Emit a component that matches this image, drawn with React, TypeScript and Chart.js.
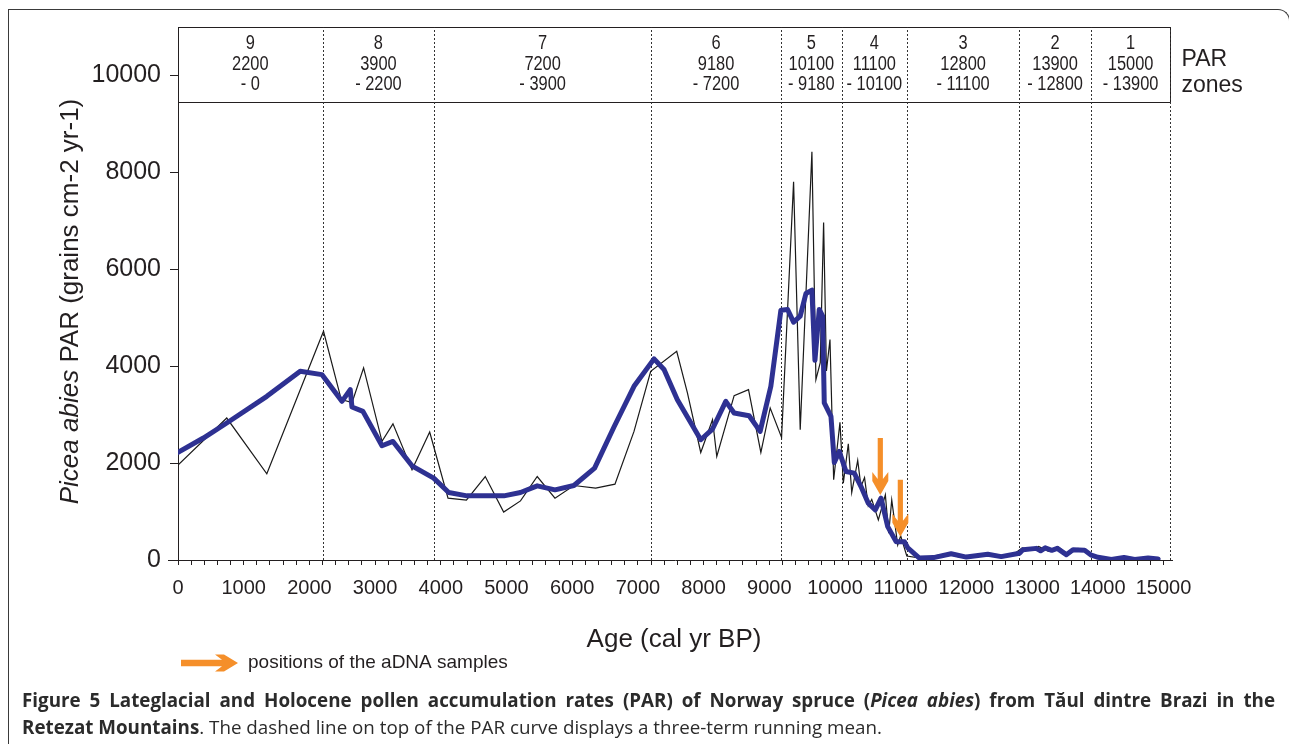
import React, { useEffect, useRef } from "react";
import { Chart, registerables } from "chart.js";

Chart.register(...registerables);

// ---- data ----
const rawAges = [
  0, 742, 1352, 2215, 2485, 2650, 2825, 3105, 3272, 3562, 3831, 4110, 4390, 4677, 4957, 5213, 5468, 5738,
  6026, 6357, 6651, 6941, 7195, 7591, 7754, 7957, 8136, 8201, 8465, 8684, 8872, 9014, 9187, 9370, 9471,
  9649, 9710, 9776, 9827, 9870, 9924, 9980, 10076, 10127, 10203, 10255, 10346, 10396, 10450, 10507, 10560,
  10660, 10767, 10818, 10864, 10955, 11000, 11093, 11300, 11500, 11700, 11900, 12100, 12300, 12500, 12700,
  12850, 13000, 13100, 13250, 13400, 13550, 13700, 13850, 14000, 14200, 14400, 14600, 14800, 14950,
];
const rawPAR = [
  1960, 2930, 1780, 4720, 3310, 3250, 3965, 2450, 2810, 1860, 2640, 1276, 1235, 1723, 990, 1220, 1723, 1276,
  1537, 1483, 1566, 2654, 3895, 4308, 3448, 2219, 2896, 2137, 3392, 3516, 2219, 3137, 2530, 7804, 2689,
  8425, 3723, 4072, 6964, 3900, 4550, 1655, 2840, 1586, 2399, 1392, 2054, 1516, 1700, 1117, 1250,
  827, 1344, 552, 1241, 310, 500, 83, 40, 80, 130, 60, 80, 130, 60, 100,
  250, 200, 280, 180, 270, 110, 240, 180, 40, 10, 60, 10, 60, 30,
];
const meanAges = [
  0, 386, 742, 1352, 1860, 2190, 2495, 2622, 2648, 2815, 3105, 3272, 3562, 3892, 4121, 4400, 4960, 5213,
  5468, 5738, 6026, 6341, 6636, 6941, 7246, 7398, 7601, 7957, 8136, 8338, 8465, 8693, 8861, 9024, 9177,
  9279, 9370, 9471, 9558, 9649, 9695, 9761, 9812, 9837, 9939, 9990, 10066, 10168, 10294, 10396, 10507,
  10614, 10701, 10803, 10930, 11057, 11108, 11285, 11500, 11768, 12000, 12326, 12530, 12809, 12861, 13064,
  13130, 13200, 13300, 13384, 13521, 13623, 13800, 13902, 14004, 14207, 14400, 14563, 14766, 14918,
];
const meanPAR = [
  2220, 2517, 2827, 3378, 3895, 3826, 3274, 3516, 3158, 3068, 2358, 2447, 1944, 1689, 1392, 1324, 1324, 1392,
  1530, 1448, 1537, 1896, 2744, 3585, 4151, 3930, 3309, 2482, 2703, 3274, 3034, 2978, 2654, 3585, 5156,
  5171, 4908, 5032, 5500, 5570, 4122, 5171, 5032, 3241, 2964, 2013, 2240, 1826, 1792, 1516, 1172,
  1034, 1276, 689, 379, 379, 250, 40, 50, 130, 60, 120, 70, 140, 210, 240,
  190, 250, 200, 240, 110, 210, 200, 100, 55, 10, 50, 10, 40, 20,
];

const zoneBounds = [0, 2200, 3900, 7200, 9180, 10100, 11100, 12800, 13900, 15100];
const zoneNumbers = ["9", "8", "7", "6", "5", "4", "3", "2", "1"];
const zoneOlder = ["2200", "3900", "7200", "9180", "10100", "11100", "12800", "13900", "15000"];
const zoneYounger = ["- 0", "- 2200", "- 3900", "- 7200", "- 9180", "- 10100", "- 11100", "- 12800", "- 13900"];

const xTickLabels = [0, 1000, 2000, 3000, 4000, 5000, 6000, 7000, 8000, 9000, 10000, 11000, 12000, 13000, 14000, 15000];
const xMinorStep = 200;
const yTickLabels = [0, 2000, 4000, 6000, 8000, 10000];

const adnaAges = [10690, 10995];
const adnaTipPAR = [1340, 480];

const X_MIN = 0;
const X_MAX = 15130;
const Y_MAX = 11000;
const HEADER_BOTTOM = 9446;

const FONT = "'Liberation Sans', Arial, Helvetica, sans-serif";
const INK = "#231f20";
const BLUE = "#2e3192";
const ORANGE = "#f58f2a";

function arrowPath(ctx: CanvasRenderingContext2D, L: number, hw: number, bw: number) {
  ctx.beginPath();
  ctx.moveTo(-L, -hw);
  ctx.lineTo(-16, -hw);
  ctx.lineTo(-23, -bw);
  ctx.lineTo(-14, -bw);
  ctx.lineTo(0, 0);
  ctx.lineTo(-14, bw);
  ctx.lineTo(-23, bw);
  ctx.lineTo(-16, hw);
  ctx.lineTo(-L, hw);
  ctx.closePath();
}

const overlay = {
  id: "overlay",
  beforeDatasetsDraw(chart: any) {
    const { ctx } = chart;
    const x = chart.scales.x;
    const y = chart.scales.y;
    const left = x.getPixelForValue(zoneBounds[0]);
    const right = Math.round(x.getPixelForValue(zoneBounds[zoneBounds.length - 1])) + 0.5;
    const top = Math.round(y.getPixelForValue(Y_MAX)) + 0.5;
    const bottom = Math.round(y.getPixelForValue(HEADER_BOTTOM)) + 0.5;
    const base = y.getPixelForValue(0);
    ctx.save();
    // short stub of the age axis left of the PAR axis
    ctx.strokeStyle = INK;
    ctx.lineWidth = 1;
    ctx.beginPath();
    ctx.moveTo(left - 10, Math.round(base) + 0.5);
    ctx.lineTo(left, Math.round(base) + 0.5);
    ctx.stroke();
    // header box
    ctx.fillStyle = "#fff";
    ctx.fillRect(left, top, right - left, bottom - top);
    ctx.strokeRect(Math.round(left) + 0.5, top, right - Math.round(left) - 0.5, bottom - top);
    // dotted zone boundaries
    ctx.strokeStyle = "#333";
    ctx.setLineDash([2, 2]);
    for (let i = 1; i < zoneBounds.length; i++) {
      const px = Math.round(x.getPixelForValue(zoneBounds[i])) + 0.5;
      ctx.beginPath();
      ctx.moveTo(px, base);
      ctx.lineTo(px, top);
      ctx.stroke();
    }
    ctx.setLineDash([]);
    // zone labels
    ctx.fillStyle = INK;
    ctx.font = `20px ${FONT}`;
    ctx.textAlign = "center";
    ctx.textBaseline = "middle";
    const rows = [zoneNumbers, zoneOlder, zoneYounger];
    const rowOffsets = [16, 36.5, 57];
    for (let i = 0; i < zoneNumbers.length; i++) {
      const cx = x.getPixelForValue((zoneBounds[i] + zoneBounds[i + 1]) / 2);
      rows.forEach((row, r) => {
        ctx.save();
        ctx.translate(cx, top + rowOffsets[r]);
        ctx.scale(0.82, 1);
        ctx.fillText(row[i], 0, 0);
        ctx.restore();
      });
    }
    // "PAR zones"
    ctx.textAlign = "left";
    ctx.textBaseline = "alphabetic";
    ctx.font = `23px ${FONT}`;
    ctx.fillText("PAR", right + 11, top + 38);
    ctx.fillText("zones", right + 11, top + 64.5);
    ctx.restore();
  },
  afterDatasetsDraw(chart: any) {
    const { ctx } = chart;
    const x = chart.scales.x;
    const y = chart.scales.y;
    ctx.save();
    ctx.fillStyle = ORANGE;
    adnaAges.forEach((age, i) => {
      const px = x.getPixelForValue(age);
      const py = y.getPixelForValue(adnaTipPAR[i]);
      ctx.save();
      ctx.translate(px, py);
      ctx.rotate(Math.PI / 2);
      arrowPath(ctx, 57, 2.6, 8);
      ctx.fill();
      ctx.restore();
    });
    ctx.restore();
  },
  afterDraw(chart: any) {
    const { ctx } = chart;
    const x = chart.scales.x;
    const area = chart.chartArea;
    ctx.save();
    ctx.fillStyle = INK;
    // x title
    ctx.font = `26px ${FONT}`;
    ctx.textAlign = "center";
    ctx.textBaseline = "middle";
    ctx.fillText("Age (cal yr BP)", (x.left + x.right) / 2 - 1, area.bottom + 80);
    // y title (mixed italic)
    ctx.save();
    ctx.translate(71, (area.top + area.bottom) / 2 + 8);
    ctx.rotate(-Math.PI / 2);
    ctx.textAlign = "left";
    const partA = "Picea abies";
    const partB = " PAR (grains cm-2 yr-1)";
    ctx.font = `italic 26px ${FONT}`;
    const wa = ctx.measureText(partA).width;
    ctx.font = `26px ${FONT}`;
    const wb = ctx.measureText(partB).width;
    const start = -(wa + wb) / 2;
    ctx.font = `italic 26px ${FONT}`;
    ctx.fillText(partA, start, 0);
    ctx.font = `26px ${FONT}`;
    ctx.fillText(partB, start + wa, 0);
    ctx.restore();
    // legend
    const ly = area.bottom + 103;
    ctx.fillStyle = ORANGE;
    ctx.save();
    ctx.translate(238, ly);
    arrowPath(ctx, 57, 3.2, 8.5);
    ctx.fill();
    ctx.restore();
    ctx.fillStyle = INK;
    ctx.textAlign = "left";
    ctx.font = `19px ${FONT}`;
    ctx.fillText("positions of the aDNA samples", 248, ly);
    ctx.restore();
  },
};

export default function App() {
  const canvasRef = useRef<HTMLCanvasElement | null>(null);

  useEffect(() => {
    if (!canvasRef.current) return;
    const minorTicks: number[] = [];
    for (let v = xTickLabels[0]; v <= xTickLabels[xTickLabels.length - 1]; v += xMinorStep) minorTicks.push(v);
    const chart = new Chart(canvasRef.current, {
      type: "line",
      data: {
        datasets: [
          {
            label: "three-term running mean",
            data: meanAges.map((a, i) => ({ x: a, y: meanPAR[i] })),
            borderColor: BLUE,
            borderWidth: 5,
            pointRadius: 0,
            tension: 0,
            borderJoinStyle: "round",
            borderCapStyle: "round",
            order: 0,
          },
          {
            label: "PAR",
            data: rawAges.map((a, i) => ({ x: a, y: rawPAR[i] })),
            borderColor: "#1a1a1a",
            borderWidth: 1.2,
            pointRadius: 0,
            tension: 0,
            order: 1,
          },
        ],
      },
      options: {
        animation: false,
        responsive: true,
        maintainAspectRatio: false,
        events: [],
        layout: { padding: { left: 78, right: 117, top: 27, bottom: 144 } },
        plugins: { legend: { display: false }, tooltip: { enabled: false }, title: { display: false } },
        scales: {
          x: {
            type: "linear",
            position: "bottom",
            min: X_MIN,
            max: X_MAX,
            afterFit: (s: any) => {
              s.height = 40;
            },
            afterBuildTicks: (s: any) => {
              s.ticks = minorTicks.map((v) => ({ value: v }));
            },
            ticks: {
              autoSkip: false,
              maxRotation: 0,
              minRotation: 0,
              padding: 11,
              color: INK,
              font: { family: FONT, size: 20 },
              callback: (v: any) => (xTickLabels.includes(Number(v)) ? String(v) : ""),
            },
            grid: { drawOnChartArea: false, drawTicks: true, tickLength: 5, color: INK, lineWidth: 1 },
            border: { display: true, color: INK, width: 1 },
          },
          y: {
            type: "linear",
            position: "left",
            min: 0,
            max: Y_MAX,
            afterFit: (s: any) => {
              s.width = 100;
            },
            afterBuildTicks: (s: any) => {
              s.ticks = yTickLabels.map((v) => ({ value: v }));
            },
            ticks: {
              padding: 9,
              color: INK,
              font: { family: FONT, size: 25 },
              callback: (v: any) => String(v),
            },
            grid: { drawOnChartArea: false, drawTicks: true, tickLength: 8, color: INK, lineWidth: 1 },
            border: { display: true, color: INK, width: 1 },
          },
        },
      } as any,
      plugins: [overlay as any],
    });
    return () => chart.destroy();
  }, []);

  return (
    <div style={{ position: "fixed", left: 0, top: 0, width: 1289, height: 744, overflow: "hidden", background: "#fff" }}>
      <div
        style={{
          position: "absolute",
          left: 8,
          top: 9,
          width: 1280,
          height: 800,
          borderTop: "1px solid #3a3a3a",
          borderLeft: "1px solid #3a3a3a",
          borderRight: "1px solid #3a3a3a",
          borderTopRightRadius: 12,
        }}
      />
      <div style={{ position: "absolute", left: 0, top: 0, width: 1289, height: 744 }}>
        <canvas ref={canvasRef} />
      </div>
      <div
        style={{
          position: "absolute",
          left: 22,
          top: 687,
          width: 1253,
          fontFamily: "'Open Sans', sans-serif",
          fontSize: 18.8,
          lineHeight: "27px",
          color: "#2b2b2b",
        }}
      >
        <div style={{ textAlign: "justify", textAlignLast: "justify", whiteSpace: "nowrap", fontWeight: 700 }}>
          Figure 5 Lateglacial and Holocene pollen accumulation rates (PAR) of Norway spruce (<i>Picea abies</i>) from
          Tăul dintre Brazi in the
        </div>
        <div style={{ whiteSpace: "nowrap" }}>
          <b>Retezat Mountains</b>. The dashed line on top of the PAR curve displays a three-term running mean.
        </div>
      </div>
    </div>
  );
}
